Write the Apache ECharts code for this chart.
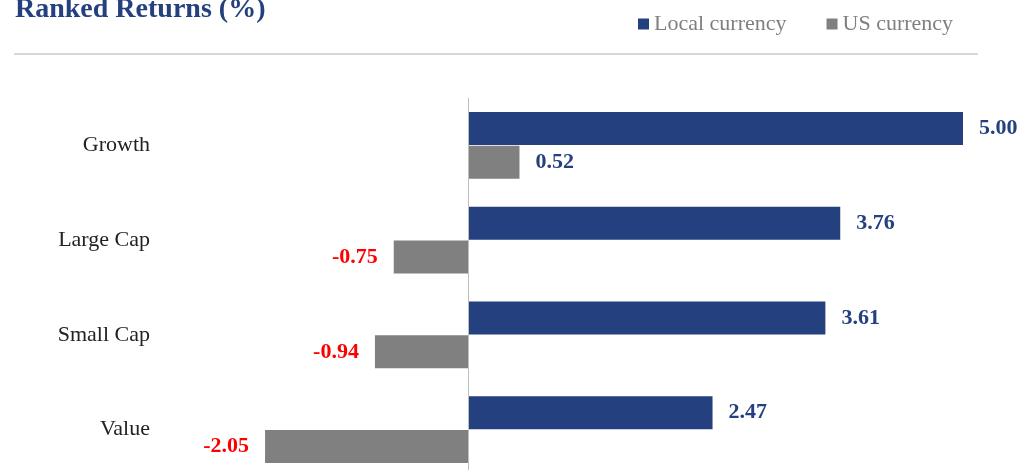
<!DOCTYPE html>
<html>
<head>
<meta charset="utf-8">
<script src="https://cdn.jsdelivr.net/npm/echarts@6/dist/echarts.min.js"></script>
<style>
    html, body {margin: 0; padding: 0; background: #fff;}
    #chart-ranked {width: 1023px; height: 470px;}
</style>
</head>
<body>
<div id="chart-ranked"></div>
<script>
// 数据
var categories = ['Growth', 'Large Cap', 'Small Cap', 'Value'];
var localReturns = [5.00, 3.76, 3.61, 2.47];
var usReturns = [0.52, -0.75, -0.94, -2.05];

var serif = '"Liberation Serif", "DejaVu Serif", serif';

// 正值蓝色在右, 负值红色在左
function withLabels(values) {
    return values.map(function (v) {
        return {
            value: v,
            label: {
                position: v < 0 ? 'left' : 'right',
                color: v < 0 ? '#ff0000' : '#24407f'
            }
        };
    });
}

function draw_ranked() {
    var myChart = echarts.init(document.getElementById('chart-ranked'));
    var barLabel = {
        show: true,
        distance: 16,
        fontFamily: serif,
        fontWeight: 'bold',
        fontSize: 22,
        formatter: function (p) {
            return p.value.toFixed(2);
        }
    };
    var option = {
        animation: false,
        title: {
            text: 'Ranked Returns (%)',
            left: 10,
            top: -9,
            textStyle: {
                fontFamily: serif,
                fontWeight: 'bold',
                fontSize: 28,
                color: '#24407f'
            }
        },
        legend: {
            data: ['Local currency', 'US currency'],
            left: 633,
            top: 8,
            icon: 'rect',
            itemWidth: 11,
            itemHeight: 11,
            itemGap: 40,
            textStyle: {
                fontFamily: serif,
                fontSize: 22,
                color: '#7f7f7f'
            }
        },
        graphic: [{
            type: 'line',
            shape: {x1: 14, y1: 54, x2: 978, y2: 54},
            style: {stroke: '#c8c8c8', lineWidth: 1.5}
        }],
        grid: {
            left: 171,
            top: 98,
            width: 841.5,
            height: 379,
            outerBoundsMode: 'none'
        },
        xAxis: {
            type: 'value',
            min: -3,
            max: 5.5,
            show: false
        },
        yAxis: {
            type: 'category',
            data: categories,
            inverse: true,
            axisLine: {show: false},
            axisTick: {show: false},
            axisLabel: {
                margin: 21,
                fontFamily: serif,
                fontSize: 22,
                color: '#222'
            }
        },
        series: [
            {
                name: 'Local currency',
                type: 'bar',
                data: withLabels(localReturns),
                barWidth: 33,
                barGap: '3%',
                itemStyle: {color: '#24407f'},
                label: barLabel,
                markLine: {
                    silent: true,
                    symbol: 'none',
                    label: {show: false},
                    lineStyle: {color: '#bfbfbf', width: 1, type: 'solid'},
                    data: [{xAxis: 0}]
                }
            },
            {
                name: 'US currency',
                type: 'bar',
                data: withLabels(usReturns),
                barWidth: 33,
                barGap: '3%',
                itemStyle: {color: '#808080'},
                label: barLabel
            }
        ]
    };
    myChart.setOption(option);
}

draw_ranked();
</script>
</body>
</html>
